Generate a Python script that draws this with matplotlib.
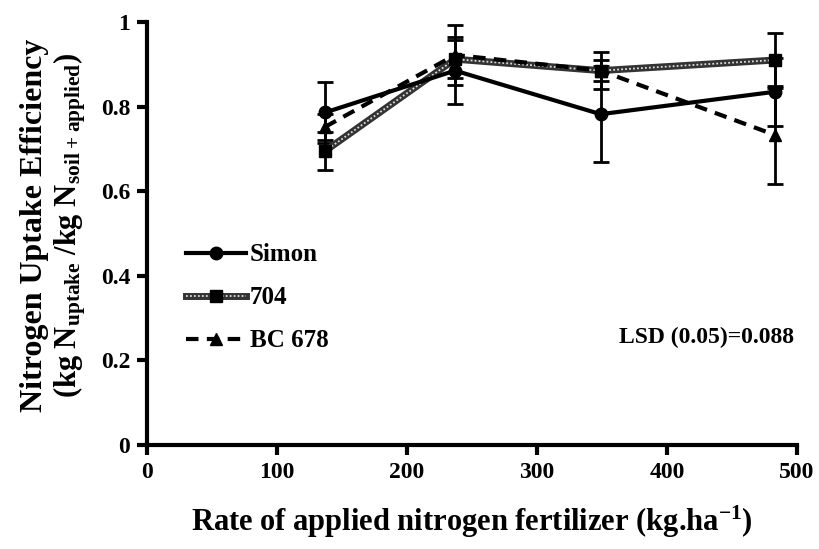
import numpy as np
import matplotlib.pyplot as plt
from matplotlib.legend_handler import HandlerTuple

plt.rcParams['font.family'] = ['Liberation Serif', 'DejaVu Serif']
plt.rcParams['font.weight'] = 'bold'
plt.rcParams['mathtext.default'] = 'regular'

# data
rate = [137, 237, 349, 483]
simon = [0.786, 0.885, 0.782, 0.835]
simon_err = [0.073, 0.080, 0.114, 0.080]
g704 = [0.695, 0.912, 0.885, 0.910]
g704_err = [0.045, 0.045, 0.043, 0.065]
bc678 = [0.752, 0.922, 0.885, 0.733]
bc678_err = [0.030, 0.070, 0.025, 0.115]

fig = plt.figure(figsize=(8.19, 5.49), dpi=100)
ax = fig.add_axes([0.1795, 0.1894, 0.7935, 0.7706])

# error bars first
for y, e in [(g704, g704_err), (bc678, bc678_err), (simon, simon_err)]:
    ax.errorbar(rate, y, yerr=e, fmt='none', ecolor='black', elinewidth=2,
                capsize=6, capthick=2, zorder=2)

l1, = ax.plot(rate, simon, '-', color='black', lw=3, marker='o', ms=9, zorder=4)
# 704: thick grainy line = dark line + light dotted overlay + markers on top
l2a, = ax.plot(rate, g704, '-', color='#333333', lw=5, zorder=3)
l2b, = ax.plot(rate, g704, color='#dddddd', lw=1.3, ls=(0, (1, 1.2)), zorder=3.1)
l2c, = ax.plot(rate, g704, ls='none', marker='s', ms=9, color='black', zorder=3.2)
l3, = ax.plot(rate, bc678, '--', color='black', lw=3, marker='^', ms=9,
              dashes=(3, 2), zorder=3.5)

ax.legend([l1, (l2a, l2b, l2c), l3], ['Simon', '704', 'BC 678'],
          handler_map={tuple: HandlerTuple(ndivide=1, pad=0)},
          loc='upper left', bbox_to_anchor=(0.045, 0.50), frameon=False,
          fontsize=18, handlelength=2.4, handletextpad=0.15, labelspacing=0.8,
          borderaxespad=0)

ax.text(498, 0.255, 'LSD (0.05)=0.088', ha='right', va='center', fontsize=17,
        fontweight='bold')

ax.set_xlim(0, 500)
ax.set_ylim(0, 1)
ax.set_xticks([0, 100, 200, 300, 400, 500])
ax.set_yticks([0, 0.2, 0.4, 0.6, 0.8, 1])
ax.set_yticklabels(['0', '0.2', '0.4', '0.6', '0.8', '1'])
for s in ['top', 'right']:
    ax.spines[s].set_visible(False)
for s in ['left', 'bottom']:
    ax.spines[s].set_linewidth(3)
ax.tick_params(direction='out', length=7, width=3, labelsize=17, pad=5)
for t in ax.get_xticklabels() + ax.get_yticklabels():
    t.set_fontweight('bold')

ax.set_xlabel('Rate of applied nitrogen fertilizer (kg.ha$^{-1}$)',
              fontsize=22, fontweight='bold', labelpad=15)
fig.text(0.042, 0.59, 'Nitrogen Uptake Efficiency', rotation=90,
         ha='center', va='center', fontsize=23, fontweight='bold')
fig.text(0.085, 0.59, '(kg N$_{uptake}$ /kg N$_{soil+applied}$)', rotation=90,
         ha='center', va='center', fontsize=22, fontweight='bold')

fig.savefig('out.png', dpi=100)
